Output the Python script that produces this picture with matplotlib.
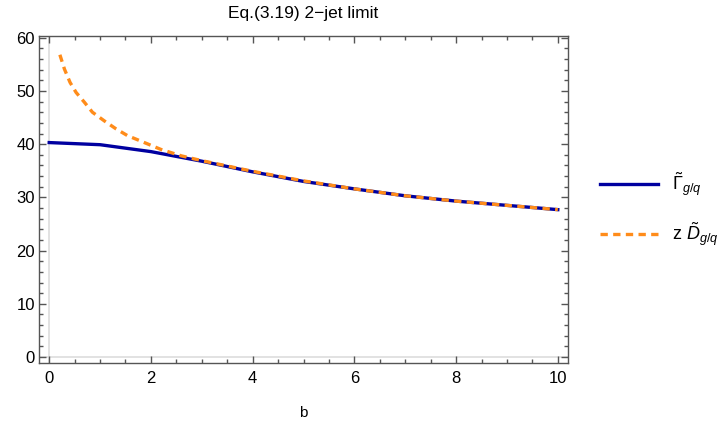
import matplotlib
matplotlib.use("Agg")
import matplotlib.pyplot as plt
from matplotlib.ticker import MultipleLocator

plt.rcParams['font.family'] = ['Liberation Sans', 'DejaVu Sans']
plt.rcParams['mathtext.fontset'] = 'custom'
plt.rcParams['mathtext.rm'] = 'Liberation Sans'
plt.rcParams['mathtext.it'] = 'Liberation Sans:italic'

# Gamma~_{g/q} sampled at integer b
b_gamma = [0, 1, 2, 3, 4, 5, 6, 7, 8, 9, 10]
gamma_vals = [40.3, 39.9, 38.6, 36.8, 34.8, 33.0, 31.6, 30.3, 29.3, 28.5, 27.7]

# z D~_{g/q}
b_d = [0.21, 0.30, 0.41, 0.53, 0.69, 0.85, 1.08, 1.31, 1.54, 1.77, 2.2, 2.6, 3, 4, 5, 6, 7, 8, 9, 10]
d_vals = [56.8, 54.1, 51.6, 49.7, 47.9, 46.0, 44.4, 42.9, 41.6, 40.7, 39.0, 37.8, 36.9, 34.9, 33.1, 31.6, 30.3, 29.3, 28.5, 27.7]

blue = "#0000a0"
orange = "#ff8c1a"
frame = "#555555"

fig = plt.figure(figsize=(7.24, 4.30), dpi=100)
ax = fig.add_axes([0.0539, 0.156, 0.7306, 0.760])

ax.axvline(0, color="#dddddd", lw=1.2, zorder=0)
ax.axhline(0, color="#dddddd", lw=1.2, zorder=0)

ax.plot(b_gamma, gamma_vals, color=blue, lw=2.4, label=r"$\tilde{\Gamma}_{g/q}$")
ax.plot(b_d, d_vals, color=orange, lw=2.4, ls=(0, (2.2, 1.6)), label=r"z $\tilde{D}_{g/q}$")

ax.set_xlim(-0.2, 10.2)
ax.set_ylim(-1.1, 60.3)
ax.xaxis.set_major_locator(MultipleLocator(2))
ax.xaxis.set_minor_locator(MultipleLocator(0.5))
ax.yaxis.set_major_locator(MultipleLocator(10))
ax.yaxis.set_minor_locator(MultipleLocator(2))
ax.tick_params(which="both", direction="in", top=True, right=True, color=frame,
               labelsize=12, labelcolor="black", width=1)
ax.tick_params(which="major", length=5)
ax.tick_params(which="minor", length=3)
ax.tick_params(axis="x", pad=6)
ax.tick_params(axis="y", pad=3)
for s in ax.spines.values():
    s.set_color(frame)
    s.set_linewidth(1.0)

ax.set_title("Eq.(3.19) 2\u2212jet limit", fontsize=12.5, pad=13)
ax.set_xlabel("b", fontsize=11, labelpad=14)

ax.legend(loc="center left", bbox_to_anchor=(1.03, 0.47), frameon=False,
          fontsize=13, handlelength=3.2, labelspacing=1.25, handletextpad=0.8)

fig.savefig("out.png", dpi=100)
